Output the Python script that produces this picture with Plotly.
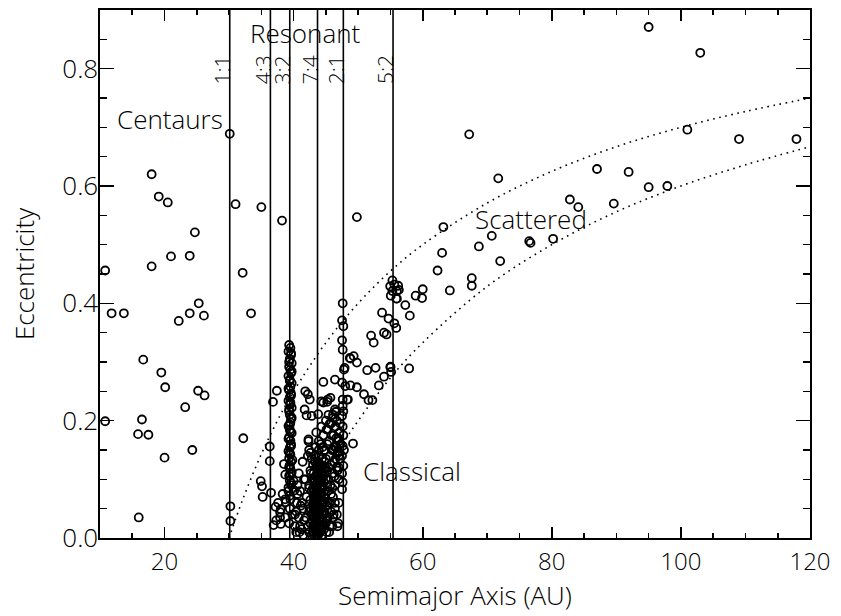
import plotly.graph_objects as go

# ---------------- data ----------------
centaur_a = [10.8, 10.8, 11.8, 13.7, 16.0, 15.9, 16.5, 16.7, 17.5, 18.0, 18.0, 19.1,
             19.5, 20.0, 20.1, 20.5, 21.0, 22.2, 23.2, 23.9, 23.9, 24.3, 24.7, 25.2,
             25.3, 26.1, 26.2]
centaur_e = [0.456, 0.199, 0.383, 0.383, 0.035, 0.177, 0.202, 0.304, 0.176, 0.463, 0.620, 0.582,
             0.282, 0.137, 0.257, 0.572, 0.480, 0.370, 0.223, 0.383, 0.481, 0.150, 0.521, 0.251,
             0.400, 0.379, 0.243]

resonant_a = [30.1, 30.2, 30.2, 36.3, 36.3, 36.5, 36.8, 37.4, 37.2, 36.9,
              # plutinos (3:2)
              39.3, 39.5, 39.2, 39.6, 39.4, 39.7, 39.3, 39.5, 39.6, 39.2, 39.4, 39.7,
              39.5, 39.3, 39.6, 39.4, 39.2, 39.5, 39.7, 39.3, 39.4, 39.6, 39.5, 39.2,
              39.4, 39.7, 39.3, 39.5, 39.6, 39.4, 39.2, 39.5, 39.3, 39.6, 39.4, 39.5,
              39.7, 39.3, 39.4, 39.6, 39.2, 39.5, 39.4, 39.8, 39.3,
              39.6, 39.3, 39.7, 39.4, 39.2, 39.6, 39.5, 39.3, 39.7, 39.4, 39.5, 39.2,
              39.6, 39.4, 39.8, 39.3, 39.5, 39.6, 39.2, 39.4,
              # twotinos (2:1)
              47.6, 47.5, 47.7, 47.5, 47.6, 47.8, 47.5, 47.6, 47.7, 47.5, 47.6, 47.7,
              47.6, 47.5, 47.7, 47.6, 47.5, 48.7, 47.9, 48.0, 48.3, 47.6, 47.8, 47.5,
              # 5:2
              55.3, 54.96, 55.6, 56.2, 56.0, 55.3, 56.3, 55.05, 55.9, 55.6, 55.9, 55.0, 55.1]
resonant_e = [0.689, 0.054, 0.029, 0.156, 0.131, 0.077, 0.232, 0.251, 0.053, 0.022,
              0.329, 0.324, 0.318, 0.312, 0.305, 0.298, 0.292, 0.287, 0.281, 0.276, 0.270, 0.264,
              0.258, 0.252, 0.246, 0.240, 0.234, 0.228, 0.222, 0.216, 0.210, 0.203, 0.197, 0.191,
              0.185, 0.179, 0.172, 0.166, 0.160, 0.154, 0.148, 0.142, 0.136, 0.130, 0.124, 0.118,
              0.112, 0.106, 0.098, 0.090, 0.080, 0.066, 0.050, 0.040, 0.025,
              0.315, 0.300, 0.284, 0.268, 0.255, 0.243, 0.231, 0.219, 0.205, 0.193, 0.181, 0.169,
              0.157, 0.145, 0.133, 0.121, 0.109, 0.094, 0.086, 0.072,
              0.400, 0.371, 0.361, 0.337, 0.321, 0.287, 0.265, 0.236, 0.216, 0.208, 0.190, 0.175,
              0.157, 0.140, 0.123, 0.095, 0.083, 0.307, 0.290, 0.259, 0.236, 0.225, 0.150, 0.110,
              0.439, 0.429, 0.432, 0.430, 0.421, 0.421, 0.423, 0.413, 0.408, 0.366, 0.358, 0.291, 0.283]

classical_a = [37.9, 37.9, 38.0, 38.0, 38.7, 38.8, 38.7, 40.0, 40.1, 38.5, 38.7, 37.3,
               37.6, 38.3, 40.2, 40.5, 40.8, 41.0, 41.2, 41.5, 41.8, 42.0, 41.4, 42.3,
               42.6, 42.8, 40.4, 40.9, 41.6, 41.1, 40.6, 40.2, 40.6, 41.0, 41.3, 41.6,
               40.8, 41.9, 41.5, 40.4,
               # dense core
               42.4, 42.4, 42.4, 42.6, 42.6, 42.6, 42.8, 42.8, 42.8, 43.0, 43.0, 43.0,
               43.0, 43.1, 43.1, 43.1, 43.2, 43.2, 43.2, 43.3, 43.3, 43.3, 43.3, 43.4,
               43.4, 43.5, 43.5, 43.5, 43.6, 43.6, 43.6, 43.6, 43.7, 43.7, 43.7, 43.8,
               43.8, 43.8, 43.8, 43.9, 43.9, 43.9, 44.0, 44.0, 44.0, 44.1, 44.1, 44.1,
               44.2, 44.2, 44.2, 44.3, 44.3, 44.4, 44.4, 44.4, 44.5, 44.5, 44.6, 44.6,
               44.7, 44.7, 44.9, 44.9,
               42.2, 42.5, 42.8, 42.9, 43.0, 43.1, 43.2, 43.3, 43.4, 43.4, 43.5, 43.5,
               43.6, 43.6, 43.7, 43.7, 43.8, 43.8, 43.9, 43.9, 44.0, 44.0, 44.0, 44.1,
               44.1, 44.2, 44.2, 44.3, 44.3, 44.4, 44.4, 44.5, 44.5, 44.6, 44.6, 44.7,
               44.8, 44.8, 44.9, 45.0, 45.0, 45.1, 45.2, 45.3, 45.3, 45.4, 45.5, 45.6,
               45.7, 45.8, 45.9, 46.0, 46.1, 46.2, 46.3, 46.4, 46.5, 46.6, 46.7, 46.8,
               47.0, 47.1, 47.2, 47.3, 43.2, 43.5, 43.8, 44.1, 44.4, 43.0, 43.6, 44.2,
               42.7, 43.3, 43.9, 44.5, 42.4, 45.6, 46.2, 46.9, 45.1, 44.7, 43.9, 43.4,
               # extended band towards 2:1
               44.8, 45.0, 45.2, 45.4, 45.5, 45.7, 45.9, 46.0, 46.2, 46.3, 46.5, 46.6,
               46.8, 46.9, 47.0, 47.2, 45.1, 45.8, 44.6, 44.2, 43.9, 43.4, 46.1, 46.6,
               45.4, 47.0, 46.4, 45.8, 45.2, 46.0, 46.7, 45.5, 46.1, 46.8, 47.0, 46.4,
               # upper part between 3:2 and 2:1
               41.8, 42.2, 42.5, 42.0, 42.8, 44.3, 45.3, 44.6, 46.4, 41.7, 45.0, 45.6,
               46.1, 46.7, 45.3, 46.5, 42.3, 42.4, 42.2, 43.5, 43.9, 44.3, 46.4, 47.0,
               46.9, 44.6, 45.2, 45.7, 43.8, 46.4]
classical_e = [0.044, 0.035, 0.049, 0.024, 0.066, 0.061, 0.035, 0.097, 0.081, 0.126, 0.108, 0.030,
               0.060, 0.075, 0.020, 0.060, 0.035, 0.080, 0.015, 0.050, 0.100, 0.070, 0.130, 0.165,
               0.145, 0.135, 0.045, 0.010, 0.030, 0.055, 0.090, 0.040, 0.075, 0.020, 0.060, 0.100,
               0.110, 0.035, 0.005, 0.010,
               0.010, 0.045, 0.090, 0.025, 0.065, 0.115, 0.005, 0.040, 0.100, 0.020, 0.055, 0.085,
               0.125, 0.035, 0.070, 0.110, 0.005, 0.050, 0.080, 0.025, 0.065, 0.095, 0.130, 0.045,
               0.105, 0.005, 0.055, 0.085, 0.020, 0.035, 0.110, 0.125, 0.045, 0.080, 0.095, 0.005,
               0.055, 0.070, 0.130, 0.020, 0.030, 0.115, 0.045, 0.075, 0.100, 0.010, 0.060, 0.125,
               0.030, 0.090, 0.110, 0.015, 0.075, 0.045, 0.100, 0.135, 0.060, 0.085, 0.020, 0.115,
               0.040, 0.095, 0.060, 0.120,
               0.020, 0.050, 0.080, 0.030, 0.010, 0.060, 0.100, 0.040, 0.015, 0.075, 0.030, 0.120,
               0.050, 0.090, 0.005, 0.065, 0.025, 0.110, 0.045, 0.080, 0.010, 0.060, 0.140, 0.035,
               0.095, 0.020, 0.070, 0.050, 0.120, 0.005, 0.085, 0.030, 0.155, 0.060, 0.105, 0.015,
               0.045, 0.130, 0.075, 0.025, 0.100, 0.055, 0.160, 0.080, 0.035, 0.120, 0.060, 0.140,
               0.090, 0.045, 0.175, 0.110, 0.070, 0.150, 0.130, 0.090, 0.190, 0.170, 0.120, 0.145,
               0.100, 0.180, 0.135, 0.160, 0.020, 0.010, 0.040, 0.015, 0.040, 0.045, 0.070, 0.090,
               0.110, 0.090, 0.100, 0.110, 0.085, 0.020, 0.040, 0.025, 0.010, 0.070, 0.125, 0.140,
               0.150, 0.135, 0.115, 0.100, 0.165, 0.125, 0.150, 0.085, 0.175, 0.105, 0.135, 0.155,
               0.115, 0.170, 0.140, 0.195, 0.185, 0.195, 0.175, 0.160, 0.150, 0.155, 0.205, 0.215,
               0.210, 0.120, 0.060, 0.075, 0.030, 0.020, 0.040, 0.010, 0.035, 0.020, 0.060, 0.050,
               0.250, 0.245, 0.236, 0.209, 0.208, 0.233, 0.236, 0.266, 0.270, 0.219, 0.200, 0.195,
               0.210, 0.200, 0.185, 0.215, 0.168, 0.150, 0.140, 0.180, 0.165, 0.190, 0.155, 0.165,
               0.148, 0.231, 0.232, 0.239, 0.211, 0.219]

scattered_a = [31.0, 32.1, 32.2, 33.4, 35.0, 34.9, 35.1, 35.2, 38.2, 49.8, 95.0, 103.0,
               67.2, 71.7, 101.0, 109.0, 117.9, 87.0, 91.9, 95.0, 97.9, 82.8, 84.1, 89.6,
               63.2, 63.0, 70.7, 68.7, 76.5, 76.7, 80.2, 72.0, 62.3, 64.2, 67.6, 67.6,
               60.0, 59.9, 58.9, 57.3, 58.0, 56.0, 53.7, 54.7, 52.0, 52.4, 54.0, 54.4,
               57.9, 51.4, 52.7, 53.2, 54.0, 48.8, 49.3, 49.8, 48.8, 49.8, 50.9, 51.6,
               52.2, 49.2, 48.4, 55.0]
scattered_e = [0.569, 0.452, 0.170, 0.383, 0.564, 0.097, 0.088, 0.070, 0.541, 0.547, 0.871, 0.827,
               0.688, 0.613, 0.696, 0.680, 0.680, 0.629, 0.624, 0.598, 0.600, 0.577, 0.564, 0.570,
               0.530, 0.486, 0.515, 0.497, 0.506, 0.503, 0.510, 0.472, 0.456, 0.422, 0.443, 0.430,
               0.424, 0.409, 0.413, 0.397, 0.379, 0.408, 0.384, 0.374, 0.345, 0.333, 0.350, 0.347,
               0.289, 0.286, 0.290, 0.260, 0.275, 0.306, 0.310, 0.299, 0.260, 0.257, 0.245, 0.235,
               0.235, 0.161, 0.236, 0.292]

# resonance locations (AU) and labels
resonance_a = [30.1, 36.4, 39.4, 43.7, 47.7, 55.4]
resonance_labels = ["1:1", "4:3", "3:2", "7:4", "2:1", "5:2"]

# dotted perihelion boundary curves
upper_curve_a = [30, 32, 35, 38, 40, 45, 50, 55, 60, 70, 80, 90, 100, 110, 120]
upper_curve_e = [0.0, 0.0625, 0.143, 0.211, 0.25, 0.333, 0.40, 0.455, 0.50, 0.571, 0.625,
                 0.667, 0.70, 0.727, 0.75]
lower_curve_a = [40, 42, 45, 48, 50, 55, 60, 70, 80, 90, 100, 110, 120]
lower_curve_e = [0.0, 0.048, 0.111, 0.167, 0.20, 0.273, 0.333, 0.429, 0.50, 0.556, 0.60,
                 0.636, 0.667]

region_labels = ["Centaurs", "Resonant", "Scattered", "Classical"]
region_a = [20.9, 41.8, 76.8, 58.3]
region_e = [0.714, 0.861, 0.543, 0.115]

x_ticks = [20, 40, 60, 80, 100, 120]
y_ticks = [0.0, 0.2, 0.4, 0.6, 0.8]

# ---------------- figure ----------------
FONT = "Open Sans"
W = 300
X_RANGE = [10, 120]
Y_RANGE = [0, 0.9]
fig = go.Figure()

for ca, ce in [(upper_curve_a, upper_curve_e), (lower_curve_a, lower_curve_e)]:
    fig.add_trace(go.Scatter(x=ca, y=ce, mode="lines", hoverinfo="skip",
                             line=dict(color="black", width=1.6, dash="1.6px,4.6px",
                                       shape="spline")))

for ra in resonance_a:
    fig.add_trace(go.Scatter(x=[ra, ra], y=Y_RANGE, mode="lines", hoverinfo="skip",
                             line=dict(color="black", width=1.6)))

all_a = centaur_a + resonant_a + classical_a + scattered_a
all_e = centaur_e + resonant_e + classical_e + scattered_e
fig.add_trace(go.Scatter(x=all_a, y=all_e, mode="markers",
                         marker=dict(symbol="circle-open", size=8, color="black",
                                     line=dict(width=1.8, color="black"))))

# invisible trace so the mirrored (top/right) axes with minor ticks get drawn
fig.add_trace(go.Scatter(x=X_RANGE, y=Y_RANGE, xaxis="x2", yaxis="y2", mode="markers",
                         marker=dict(opacity=0), hoverinfo="skip"))

annotations = []
for ra, lab in zip(resonance_a, resonance_labels):
    annotations.append(dict(x=ra, y=0.798, xref="x", yref="y", text=lab, showarrow=False,
                            textangle=-90, xanchor="center", yanchor="middle", xshift=-8,
                            font=dict(family=FONT, size=21, color="black", weight=W)))
for lab, ra, re_ in zip(region_labels, region_a, region_e):
    annotations.append(dict(x=ra, y=re_, xref="x", yref="y", text=lab, showarrow=False,
                            xanchor="center", yanchor="middle",
                            font=dict(family=FONT, size=26, color="black", weight=W)))

common_x = dict(range=X_RANGE, tickvals=x_ticks, ticks="inside", ticklen=11, tickwidth=1.6,
                tickcolor="black", showline=True, linewidth=1.6, linecolor="black",
                showgrid=False, zeroline=False,
                minor=dict(dtick=5, tick0=0, ticks="inside", ticklen=5, tickwidth=1.6,
                           tickcolor="black", showgrid=False))
common_y = dict(range=Y_RANGE, tickvals=y_ticks, tickformat=".1f", ticks="inside",
                ticklen=14, tickwidth=1.6, tickcolor="black", showline=True, linewidth=1.6,
                linecolor="black", showgrid=False, zeroline=False,
                minor=dict(dtick=0.05, tick0=0, ticks="inside", ticklen=7, tickwidth=1.6,
                           tickcolor="black", showgrid=False))

fig.update_layout(
    width=841, height=616,
    margin=dict(l=100, r=25, t=10, b=77),
    paper_bgcolor="white", plot_bgcolor="white",
    showlegend=False,
    font=dict(family=FONT, size=24, color="black", weight=W),
    annotations=annotations,
    xaxis=dict(**common_x, tickfont=dict(family=FONT, size=24, weight=W),
               ticklabelstandoff=2,
               title=dict(text="Semimajor Axis (AU)", standoff=10,
                          font=dict(family=FONT, size=26, weight=W))),
    yaxis=dict(**common_y, tickfont=dict(family=FONT, size=26, weight=W),
               ticklabelstandoff=-5,
               title=dict(text="Eccentricity", standoff=20,
                          font=dict(family=FONT, size=26, weight=W))),
    xaxis2=dict(**common_x, overlaying="x", side="top", showticklabels=False),
    yaxis2=dict(**common_y, overlaying="y", side="right", showticklabels=False),
)

# remove the default page margin so the figure fills the 841x616 window exactly
fig.write_html("out.html",
               config={"displayModeBar": False, "staticPlot": True},
               post_script="document.body.style.margin='0px';"
                           "document.body.style.overflow='hidden';")
